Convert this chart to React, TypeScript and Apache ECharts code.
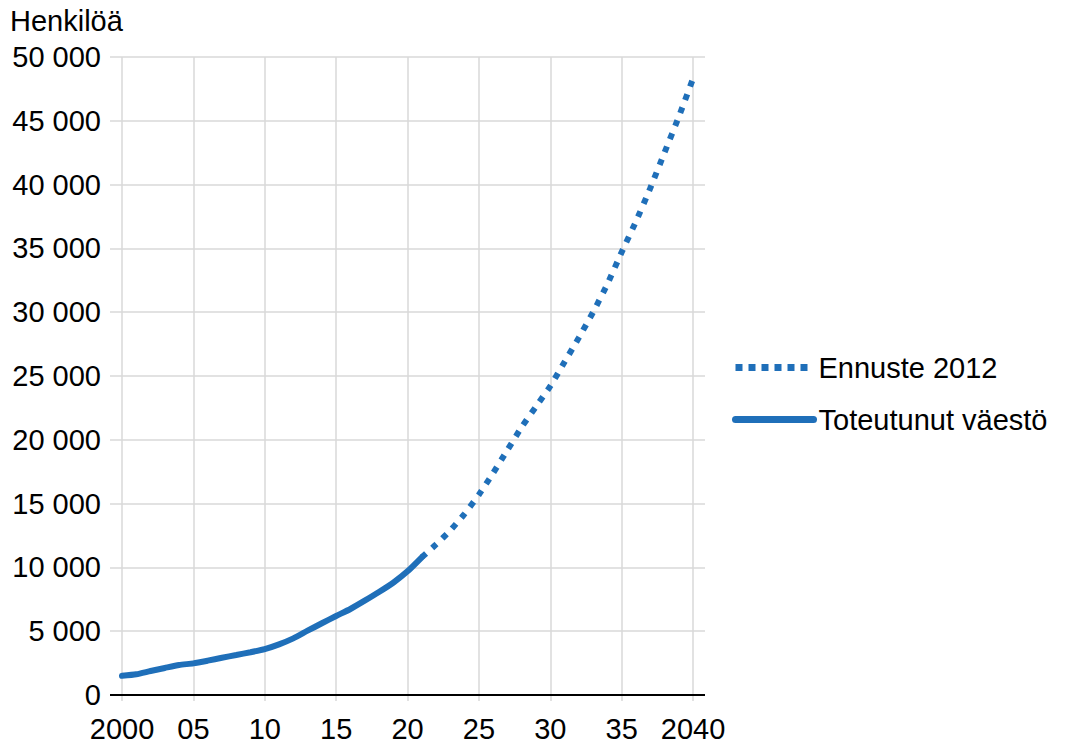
import React, { useEffect, useRef } from "react";
import * as echarts from "echarts";

const actualYears = [2000, 2001, 2002, 2003, 2004, 2005, 2006, 2007, 2008, 2009, 2010, 2011, 2012, 2013, 2014, 2015, 2016, 2017, 2018, 2019, 2020, 2021];
const actualValues = [1500, 1620, 1880, 2120, 2350, 2480, 2690, 2920, 3130, 3350, 3600, 3970, 4440, 5040, 5620, 6190, 6740, 7390, 8070, 8800, 9690, 10790];

const forecastYears = [2021, 2022, 2023, 2024, 2025, 2026, 2027, 2028, 2029, 2030, 2031, 2032, 2033, 2034, 2035, 2036, 2037, 2038, 2039, 2040];
const forecastValues = [10790, 11800, 12900, 14200, 15700, 17400, 19200, 21000, 22600, 24200, 26100, 28000, 30000, 32200, 34700, 37100, 39700, 42500, 45300, 48300];

const seriesNames = ["Ennuste 2012", "Toteutunut väestö"];
const yAxisTitle = "Henkilöä";

const BLUE = "#1f6fb9";
const GRID = "#d9d9d9";
const FONT = "Liberation Sans, Arial, sans-serif";
const FS = 29;

export default function App() {
  const ref = useRef<HTMLDivElement>(null);
  useEffect(() => {
    if (!ref.current) return;
    const chart = echarts.init(ref.current, undefined, { renderer: "svg" });
    const fmtY = (v: number) => {
      const s = String(Math.round(v));
      return s.replace(/\B(?=(\d{3})+(?!\d))/g, " ");
    };
    chart.setOption({
      animation: false,
      backgroundColor: "#ffffff",
      textStyle: { fontFamily: FONT },
      grid: { left: 122, right: 383, top: 57, bottom: 50, containLabel: false },
      legend: {
        orient: "vertical",
        left: 732,
        top: 353,
        padding: 0,
        itemWidth: 78,
        itemHeight: 14,
        itemGap: 23,
        data: [
          {
            name: seriesNames[0],
            itemStyle: { opacity: 0 },
            lineStyle: { width: 7, type: [7, 6], cap: "butt", color: BLUE },
          },
          {
            name: seriesNames[1],
            itemStyle: { opacity: 0 },
            lineStyle: { width: 7, type: "solid", cap: "round", color: BLUE },
          },
        ],
        textStyle: { fontSize: FS, color: "#000", fontFamily: FONT },
      },
      xAxis: {
        type: "value",
        min: 2000,
        max: 2040,
        interval: 5,
        axisLine: { show: false },
        axisTick: { show: true, length: 6, lineStyle: { color: GRID, width: 1.5 } },
        splitLine: { show: true, lineStyle: { color: GRID, width: 1.5 } },
        axisLabel: {
          color: "#000",
          fontSize: FS,
          fontFamily: FONT,
          margin: 19,
          formatter: (v: number) => (v === 2000 || v === 2040 ? String(v) : String(v).slice(2)),
        },
      },
      yAxis: [
        {
          type: "value",
          min: 0,
          max: 50000,
          interval: 5000,
          axisLine: { show: false },
          axisTick: { show: true, length: 12, lineStyle: { color: GRID, width: 1.5 } },
          splitLine: { show: true, lineStyle: { color: GRID, width: 1.5 } },
          axisLabel: { color: "#000", fontSize: FS, fontFamily: FONT, margin: 21, formatter: fmtY },
        },
        {
          type: "value",
          position: "right",
          min: 0,
          max: 50000,
          interval: 5000,
          axisLine: { show: false },
          axisTick: { show: true, length: 12, lineStyle: { color: GRID, width: 1.5 } },
          splitLine: { show: false },
          axisLabel: { show: false },
        },
      ],
      graphic: [
        {
          type: "text",
          left: 10,
          top: 6,
          style: { text: yAxisTitle, fontSize: FS, fill: "#000", fontFamily: FONT },
        },
        {
          type: "line",
          shape: { x1: 110, y1: 695, x2: 705, y2: 695 },
          style: { stroke: "#000", lineWidth: 2 },
          z: 10,
        },
      ],
      series: [
        {
          name: seriesNames[0],
          type: "line",
          data: forecastYears.map((y, i) => [y, forecastValues[i]]),
          symbol: "none",
          smooth: 0.2,
          itemStyle: { color: BLUE },
          lineStyle: { color: BLUE, width: 6, type: [6, 8], cap: "butt" },
          z: 3,
        },
        {
          name: seriesNames[1],
          type: "line",
          data: actualYears.map((y, i) => [y, actualValues[i]]),
          symbol: "none",
          smooth: 0.2,
          itemStyle: { color: BLUE },
          lineStyle: { color: BLUE, width: 6, cap: "round" },
          z: 4,
        },
      ],
    });
    return () => chart.dispose();
  }, []);
  return (
    <div
      ref={ref}
      style={{ position: "fixed", left: 0, top: 0, width: 1076, height: 745, background: "#fff" }}
    />
  );
}
